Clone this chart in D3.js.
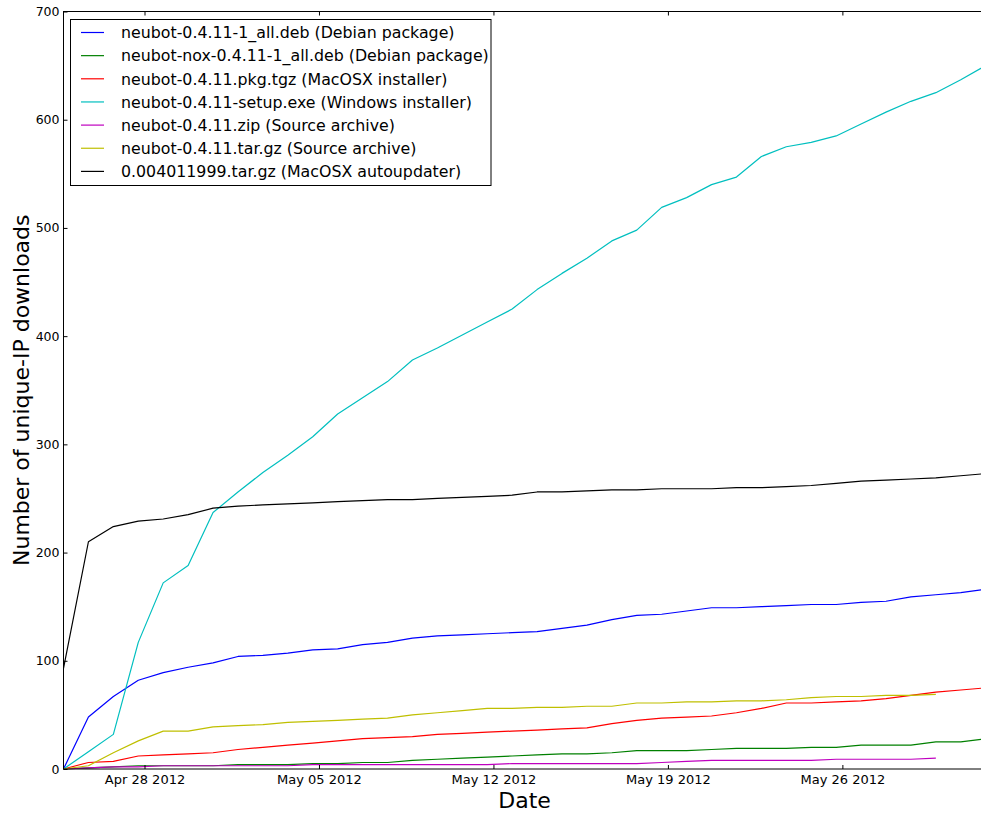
<!DOCTYPE html>
<html>
<head>
<meta charset="utf-8">
<script src="https://cdn.jsdelivr.net/npm/d3@7"></script>
<style>
  body { margin: 0; background: #fff; }
  svg { display: block; font-family: "DejaVu Sans", sans-serif; }
  .tick line { stroke: #000; }
</style>
</head>
<body>
<div id="chart"></div>
<script>
// one sample per day, taken in the evening
const dates = [
    "2012-04-24 18:00", "2012-04-25 18:00", "2012-04-26 18:00", "2012-04-27 18:00",
    "2012-04-28 18:00", "2012-04-29 18:00", "2012-04-30 18:00", "2012-05-01 18:00",
    "2012-05-02 18:00", "2012-05-03 18:00", "2012-05-04 18:00", "2012-05-05 18:00",
    "2012-05-06 18:00", "2012-05-07 18:00", "2012-05-08 18:00", "2012-05-09 18:00",
    "2012-05-10 18:00", "2012-05-11 18:00", "2012-05-12 18:00", "2012-05-13 18:00",
    "2012-05-14 18:00", "2012-05-15 18:00", "2012-05-16 18:00", "2012-05-17 18:00",
    "2012-05-18 18:00", "2012-05-19 18:00", "2012-05-20 18:00", "2012-05-21 18:00",
    "2012-05-22 18:00", "2012-05-23 18:00", "2012-05-24 18:00", "2012-05-25 18:00",
    "2012-05-26 18:00", "2012-05-27 18:00", "2012-05-28 18:00", "2012-05-29 18:00",
    "2012-05-30 18:00", "2012-05-31 18:00"
];

const debValues  = [0, 48, 67, 82, 89, 94, 98, 104, 105, 107, 110, 111, 115, 117, 121, 123, 124, 125, 126, 127,
                    130, 133, 138, 142, 143, 146, 149, 149, 150, 151, 152, 152, 154, 155, 159, 161, 163, 166];
const noxValues  = [0, 1, 2, 3, 3, 3, 3, 4, 4, 4, 5, 5, 6, 6, 8, 9, 10, 11, 12, 13,
                    14, 14, 15, 17, 17, 17, 18, 19, 19, 19, 20, 20, 22, 22, 22, 25, 25, 28];
const pkgValues  = [0, 6, 7, 12, 13, 14, 15, 18, 20, 22, 24, 26, 28, 29, 30, 32, 33, 34, 35, 36,
                    37, 38, 42, 45, 47, 48, 49, 52, 56, 61, 61, 62, 63, 65, 68, 71, 73, 75];
const exeValues  = [0, 16, 32, 117, 172, 188, 237, 256, 274, 290, 307, 328, 343, 358, 378, 389, 401, 413, 425, 443,
                    458, 472, 488, 498, 519, 528, 540, 547, 566, 575, 579, 585, 596, 607, 617, 625, 637, 650];
const zipValues  = [0, 1, 2, 2, 3, 3, 3, 3, 3, 3, 4, 4, 4, 4, 4, 4, 4, 4, 5, 5,
                    5, 5, 5, 5, 6, 7, 8, 8, 8, 8, 8, 9, 9, 9, 9, 10];
const tarValues  = [0, 3, 15, 26, 35, 35, 39, 40, 41, 43, 44, 45, 46, 47, 50, 52, 54, 56, 56, 57,
                    57, 58, 58, 61, 61, 62, 62, 63, 63, 64, 66, 67, 67, 68, 68, 69];
const autoValues = [93, 210, 224, 229, 231, 235, 241, 243, 244, 245, 246, 247, 248, 249, 249, 250, 251, 252, 253, 256,
                    256, 257, 258, 258, 259, 259, 259, 260, 260, 261, 262, 264, 266, 267, 268, 269, 271, 273];

const seriesLabels = [
    "neubot-0.4.11-1_all.deb (Debian package)",
    "neubot-nox-0.4.11-1_all.deb (Debian package)",
    "neubot-0.4.11.pkg.tgz (MacOSX installer)",
    "neubot-0.4.11-setup.exe (Windows installer)",
    "neubot-0.4.11.zip (Source archive)",
    "neubot-0.4.11.tar.gz (Source archive)",
    "0.004011999.tar.gz (MacOSX autoupdater)"
];
const seriesValues = [debValues, noxValues, pkgValues, exeValues, zipValues, tarValues, autoValues];
const seriesColors = ["#0000ff", "#008000", "#ff0000", "#00bfbf", "#bf00bf", "#bfbf00", "#000000"];

const xTicks = ["2012-04-28", "2012-05-05", "2012-05-12", "2012-05-19", "2012-05-26"];
const yTicks = [0, 100, 200, 300, 400, 500, 600, 700];

const width = 981;
const height = 816;
const plot = { left: 63.5, right: 985.7, top: 11.5, bottom: 769 };
const font = "DejaVu Sans";

const parseTime = d3.timeParse("%Y-%m-%d %H:%M");
const parseDay = d3.timeParse("%Y-%m-%d");
const times = dates.map(parseTime);

const svg = d3.select("#chart")
    .append("svg")
    .attr("width", width)
    .attr("height", height);

const x = d3.scaleTime()
    .domain(d3.extent(times))
    .range([plot.left, plot.right]);

const y = d3.scaleLinear()
    .domain([0, 700])
    .range([plot.bottom, plot.top]);

// lines
const line = d3.line()
    .x((d, i) => x(times[i]))
    .y(d => y(d));

svg.selectAll("path.series")
    .data(seriesValues)
    .enter().append("path")
    .attr("class", "series")
    .attr("d", line)
    .attr("fill", "none")
    .attr("stroke", (d, i) => seriesColors[i])
    .attr("stroke-width", 1.2)
    .attr("stroke-linejoin", "round");

// frame
svg.append("rect")
    .attr("x", plot.left)
    .attr("y", plot.top)
    .attr("width", plot.right - plot.left)
    .attr("height", plot.bottom - plot.top)
    .attr("fill", "none")
    .attr("stroke", "#000")
    .attr("stroke-width", 1);

// axes, ticks pointing inwards
const xAxis = svg.append("g")
    .attr("transform", `translate(0,${plot.bottom})`)
    .call(d3.axisBottom(x)
        .tickValues(xTicks.map(parseDay))
        .tickFormat(d3.timeFormat("%b %d %Y"))
        .tickSize(-4)
        .tickPadding(6));
xAxis.attr("font-family", font).attr("font-size", 13);
xAxis.select(".domain").remove();
xAxis.selectAll("text").attr("fill", "#000");

const xTop = svg.append("g")
    .attr("transform", `translate(0,${plot.top})`)
    .call(d3.axisTop(x)
        .tickValues(xTicks.map(parseDay))
        .tickFormat("")
        .tickSize(-4));
xTop.select(".domain").remove();

const yAxis = svg.append("g")
    .attr("transform", `translate(${plot.left},0)`)
    .call(d3.axisLeft(y)
        .tickValues(yTicks)
        .tickSize(-4)
        .tickPadding(4));
yAxis.attr("font-family", font).attr("font-size", 12.5);
yAxis.select(".domain").remove();
yAxis.selectAll("text").attr("fill", "#000");

// axis titles
svg.append("text")
    .attr("x", (plot.left + plot.right) / 2)
    .attr("y", 808)
    .attr("text-anchor", "middle")
    .attr("font-size", 22)
    .text("Date");

svg.append("text")
    .attr("transform", `translate(29,${(plot.top + plot.bottom) / 2}) rotate(-90)`)
    .attr("text-anchor", "middle")
    .attr("font-size", 22)
    .text("Number of unique-IP downloads");

// legend
const legend = svg.append("g");

legend.append("rect")
    .attr("x", 70.5)
    .attr("y", 19.5)
    .attr("width", 420.5)
    .attr("height", 166)
    .attr("fill", "#fff")
    .attr("stroke", "#000")
    .attr("stroke-width", 1);

const items = legend.selectAll("g.item")
    .data(seriesLabels)
    .enter().append("g")
    .attr("class", "item")
    .attr("transform", (d, i) => `translate(0,${32.5 + i * 23.15})`);

items.append("line")
    .attr("x1", 81)
    .attr("x2", 104)
    .attr("stroke", (d, i) => seriesColors[i])
    .attr("stroke-width", 1.2);

items.append("text")
    .attr("x", 121)
    .attr("dy", "0.36em")
    .attr("font-size", 15.8)
    .text(d => d);
</script>
</body>
</html>
